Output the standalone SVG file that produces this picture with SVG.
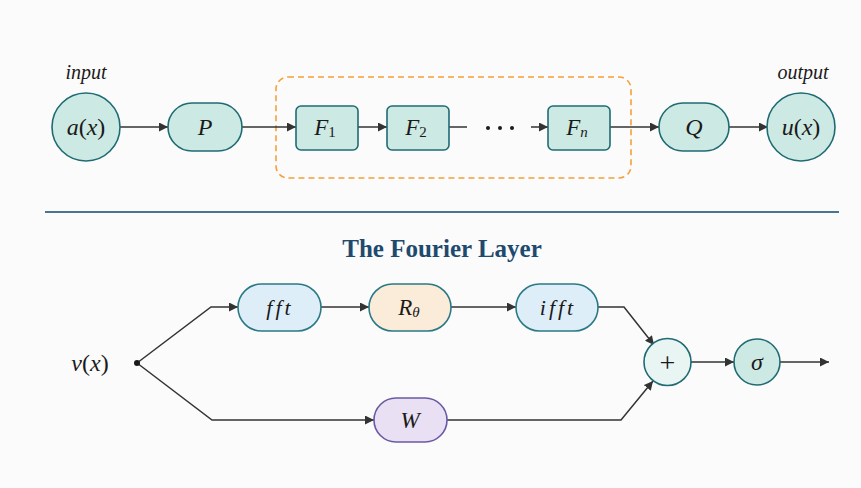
<svg xmlns="http://www.w3.org/2000/svg" width="861" height="488" viewBox="0 0 861 488">
<defs>
<style>
.m{font-family:"Liberation Serif","Times New Roman",serif;font-style:italic;fill:#1a1a1a;text-anchor:middle;dominant-baseline:central;font-variant-ligatures:none}
.u{font-style:normal}
.lbl{font-family:"Liberation Serif","Times New Roman",serif;font-style:italic;font-size:20px;fill:#1a1a1a;text-anchor:middle}
.teal{fill:#cde9e4;stroke:#1f6b73;stroke-width:1.6}
.blue{fill:#deeef8;stroke:#2a7a86;stroke-width:1.6}
.tan{fill:#fbebd9;stroke:#2a7a86;stroke-width:1.6}
.pur{fill:#e9e0f3;stroke:#6a5aa6;stroke-width:1.6}
.lite{fill:#e8f5f3;stroke:#1f6b73;stroke-width:1.6}
.c{fill:none;stroke:#333;stroke-width:1.5}
</style>
<marker id="ah" viewBox="0 0 10 10" refX="10" refY="5" markerWidth="9" markerHeight="9" markerUnits="userSpaceOnUse" orient="auto">
<path d="M0,0 L10,5 L0,10 z" fill="#333"/>
</marker>
</defs>
<rect width="861" height="488" fill="#fbfbfb"/>
<text class="lbl" x="86" y="79">input</text>
<text class="lbl" x="803" y="79">output</text>
<rect x="276" y="77" width="355" height="101" rx="12" fill="none" stroke="#f5a03a" stroke-width="1.6" stroke-dasharray="6,4"/>
<g id="connectors">
<line class="c" x1="120" y1="127" x2="168" y2="127" marker-end="url(#ah)"/>
<line class="c" x1="242" y1="127" x2="296" y2="127" marker-end="url(#ah)"/>
<line class="c" x1="358" y1="127" x2="387" y2="127" marker-end="url(#ah)"/>
<line class="c" x1="449" y1="127" x2="467" y2="127"/>
<line class="c" x1="531" y1="127" x2="548" y2="127" marker-end="url(#ah)"/>
<line class="c" x1="610" y1="127" x2="659" y2="127" marker-end="url(#ah)"/>
<line class="c" x1="729" y1="127" x2="768" y2="127" marker-end="url(#ah)"/>
<polyline class="c" points="137,363 211,307 238,307" marker-end="url(#ah)"/>
<line class="c" x1="321" y1="307" x2="369" y2="307" marker-end="url(#ah)"/>
<line class="c" x1="451" y1="307" x2="516" y2="307" marker-end="url(#ah)"/>
<polyline class="c" points="598,307 624,307 654,345" marker-end="url(#ah)"/>
<polyline class="c" points="137,363 212,420 374,420" marker-end="url(#ah)"/>
<polyline class="c" points="447,420 621,420 653,381" marker-end="url(#ah)"/>
<line class="c" x1="691" y1="362" x2="734" y2="362" marker-end="url(#ah)"/>
<line class="c" x1="780" y1="362" x2="829" y2="362" marker-end="url(#ah)"/>
</g>
<g id="dots" fill="#1a1a1a">
<circle cx="488" cy="128" r="2"/><circle cx="500" cy="128" r="2"/><circle cx="512" cy="128" r="2"/>
</g>
<g id="a"><circle class="teal" cx="86" cy="127" r="34"/><text class="m" x="86" y="127" font-size="24">a<tspan class="u">(</tspan>x<tspan class="u">)</tspan></text></g>
<g id="P"><rect class="teal" x="168" y="103" width="74" height="48" rx="24"/><text class="m" x="205" y="127" font-size="24">P</text></g>
<g id="F1"><rect class="teal" x="296" y="106" width="62" height="44" rx="5"/><text class="m" x="325" y="127" font-size="23">F<tspan class="u" font-size="15" dy="5">1</tspan></text></g>
<g id="F2"><rect class="teal" x="387" y="106" width="62" height="44" rx="5"/><text class="m" x="416" y="127" font-size="23">F<tspan class="u" font-size="15" dy="5">2</tspan></text></g>
<g id="Fn"><rect class="teal" x="548" y="106" width="62" height="44" rx="5"/><text class="m" x="577" y="127" font-size="23">F<tspan font-size="15" dy="5">n</tspan></text></g>
<g id="Q"><rect class="teal" x="659" y="103" width="70" height="48" rx="24"/><text class="m" x="694" y="127" font-size="24">Q</text></g>
<g id="u"><circle class="teal" cx="801" cy="127" r="34"/><text class="m" x="801" y="127" font-size="24">u<tspan class="u">(</tspan>x<tspan class="u">)</tspan></text></g>
<line x1="45" y1="212" x2="839" y2="212" stroke="#4a7590" stroke-width="2"/>
<text x="442" y="257" font-family="'Liberation Serif','Times New Roman',serif" font-weight="bold" font-size="25" fill="#1d4a6e" text-anchor="middle">The Fourier Layer</text>
<g id="v"><text class="m" x="90" y="363" font-size="24">v<tspan class="u">(</tspan>x<tspan class="u">)</tspan></text><circle cx="137" cy="363" r="3" fill="#1a1a1a"/></g>
<g id="fft"><rect class="blue" x="238" y="284" width="83" height="47" rx="23.5"/><text class="m" x="280" y="307" font-size="22" letter-spacing="3">fft</text></g>
<g id="R"><rect class="tan" x="369" y="284" width="82" height="47" rx="23.5"/><text class="m" x="409" y="307" font-size="23">R<tspan font-size="15" dy="5">θ</tspan></text></g>
<g id="ifft"><rect class="blue" x="516" y="284" width="82" height="47" rx="23.5"/><text class="m" x="558" y="307" font-size="22" letter-spacing="3">ifft</text></g>
<g id="W"><rect class="pur" x="374" y="398" width="73" height="44" rx="22"/><text class="m" x="410" y="420" font-size="23">W</text></g>
<g id="plus"><circle class="lite" cx="667.5" cy="362" r="23.5"/><text x="667.5" y="362" font-family="'Liberation Serif',serif" font-size="28" fill="#1a1a1a" text-anchor="middle" dominant-baseline="central">+</text></g>
<g id="sigma"><circle class="teal" cx="757" cy="362" r="23"/><text class="m" x="757" y="362" font-size="24">σ</text></g>
</svg>
